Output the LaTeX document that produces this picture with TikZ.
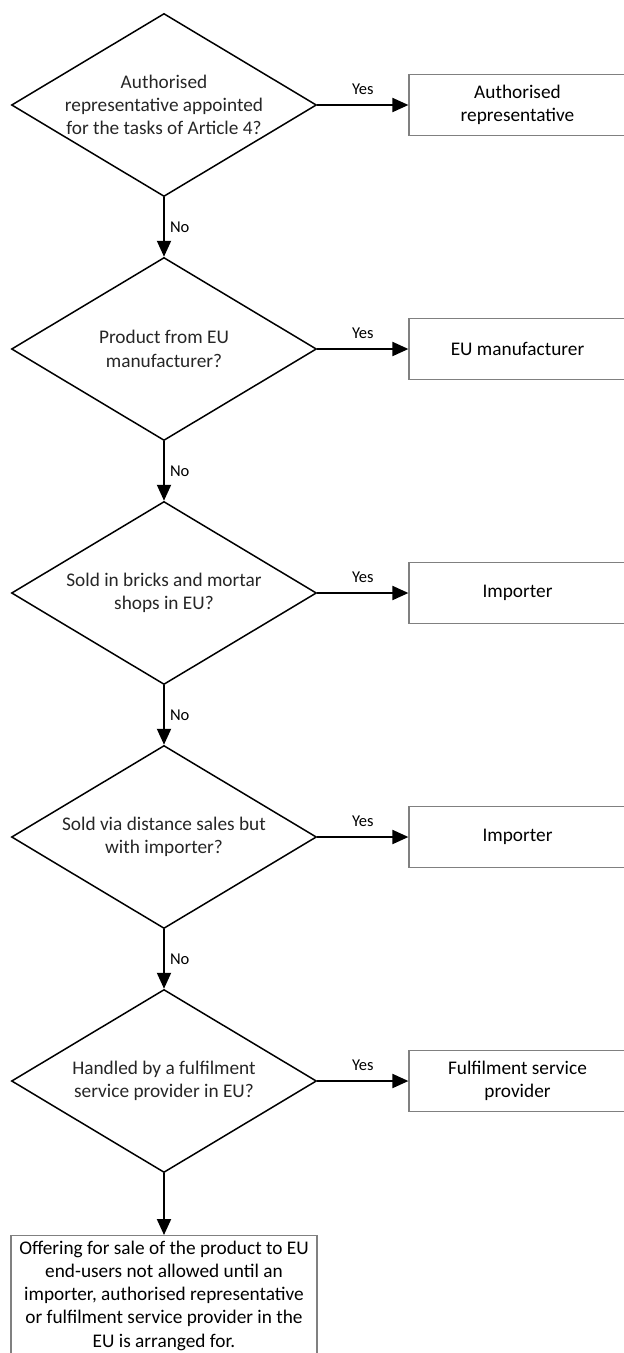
\documentclass[tikz,border=0pt]{standalone}
\usepackage{fontspec}
\setmainfont{Carlito}
\usetikzlibrary{shapes.geometric,arrows.meta}

\begin{document}
\begin{tikzpicture}[x=1pt,y=-1pt,
  decision/.style = {diamond, aspect=1.667, draw=black, line width=1.5pt, minimum width=305pt, minimum height=183pt, inner sep=-4pt, align=center, text=black!85, font=\fontsize{19.3}{23.3}\selectfont},
  outcome/.style = {rectangle, draw=black!50, line width=1.2pt, minimum width=217pt, minimum height=61pt, align=center, font=\fontsize{19.3}{23.3}\selectfont},
  flow/.style = {line width=2pt, -{Triangle[length=16pt,width=14pt]}},
  lbl/.style = {inner sep=2pt, font=\fontsize{16.5}{20}\selectfont}]
\useasboundingbox (0,0) rectangle (624,1353);
%questions and their yes answers
\foreach \q/\a [count=\i] in {
    {Authorised\\representative appointed\\for the tasks of Article 4?}/{Authorised\\representative},
    {Product from EU\\manufacturer?}/{EU manufacturer},
    {Sold in bricks and mortar\\shops in EU?}/{Importer},
    {Sold via distance sales but\\with importer?}/{Importer},
    {Handled by a fulfilment\\service provider in EU?}/{Fulfilment service\\provider}} {
  \pgfmathsetmacro\y{105+244*(\i-1)}
  \node[decision] (q\i) at (164,\y) {\q};
  \node[outcome] (a\i) at (517.5,\y) {\a};
  \draw[flow] (q\i) -- node[lbl,above=7pt] {Yes} (a\i);
}
\foreach \i [evaluate=\i as \j using int(\i+1)] in {1,...,4}
  \draw[flow] (q\i) -- node[lbl,right=3pt] {No} (q\j);
\node[outcome, anchor=north, minimum width=306pt, inner xsep=4pt, inner ysep=5pt] (stop) at (164,1235)
  {Offering for sale of the product to EU\\end-users not allowed until an\\importer, authorised representative\\or fulfilment service provider in the\\EU is arranged for.};
\draw[flow] (q5) -- (stop);
\end{tikzpicture}
\end{document}
